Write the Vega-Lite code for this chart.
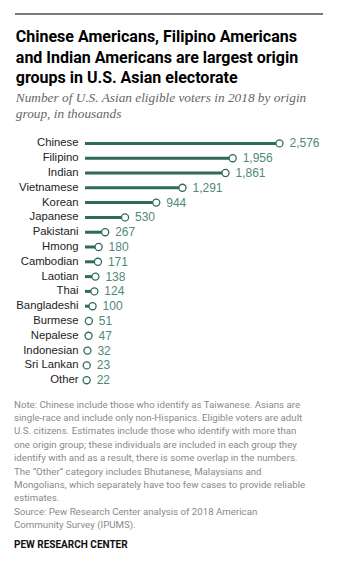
{
  "$schema": "https://vega.github.io/schema/vega-lite/v6.json",
  "padding": {"left": 14, "top": 13, "right": 8, "bottom": 8},
  "background": "white",
  "config": {"view": {"stroke": null}},
  "title": {
    "text": [
      "Note: Chinese include those who identify as Taiwanese. Asians are",
      "single-race and include only non-Hispanics. Eligible voters are adult",
      "U.S. citizens. Estimates include those who identify with more than",
      "one origin group; these individuals are included in each group they",
      "identify with and as a result, there is some overlap in the numbers.",
      "The “Other” category includes Bhutanese, Malaysians and",
      "Mongolians, which separately have too few cases to provide reliable",
      "estimates.",
      "Source: Pew Research Center analysis of 2018 American",
      "Community Survey (IPUMS)."
    ],
    "subtitle": "PEW RESEARCH CENTER",
    "orient": "bottom",
    "anchor": "start",
    "frame": "bounds",
    "offset": 12,
    "font": "Roboto",
    "fontSize": 9.7,
    "fontWeight": "normal",
    "color": "#8a8a8a",
    "lineHeight": 13.4,
    "subtitleFont": "Roboto",
    "subtitleFontSize": 10,
    "subtitleFontWeight": "bold",
    "subtitleColor": "#111111",
    "subtitlePadding": 10
  },
  "spacing": 14,
  "vconcat": [
    {
      "width": 238,
      "height": 2,
      "data": {"values": [{"x": -70, "x2": 238, "y": 0.5}]},
      "mark": {"type": "rule", "color": "#7a7a7a", "strokeWidth": 2},
      "encoding": {
        "x": {"field": "x", "type": "quantitative", "scale": {"domain": [0, 238], "nice": false, "zero": false}, "axis": null},
        "x2": {"field": "x2"},
        "y": {"field": "y", "type": "quantitative", "scale": {"domain": [0, 1]}, "axis": null}
      }
    },
    {
      "title": {
        "text": [
          "Chinese Americans, Filipino Americans",
          "and Indian Americans are largest origin",
          "groups in U.S. Asian electorate"
        ],
        "subtitle": [
          "Number of U.S. Asian eligible voters in 2018 by origin",
          "group, in thousands"
        ],
        "anchor": "start",
        "frame": "bounds",
        "font": "Roboto",
        "fontSize": 16,
        "fontWeight": "bold",
        "color": "#000000",
        "lineHeight": 20.5,
        "subtitleFont": "Liberation Serif",
        "subtitleFontStyle": "italic",
        "subtitleFontSize": 13.3,
        "subtitleColor": "#666666",
        "subtitleLineHeight": 16,
        "subtitlePadding": 5,
        "offset": 15.5
      },
      "width": 236,
      "height": 251.6,
      "data": {
        "values": [
          {"group": "Chinese", "value": 2576},
          {"group": "Filipino", "value": 1956},
          {"group": "Indian", "value": 1861},
          {"group": "Vietnamese", "value": 1291},
          {"group": "Korean", "value": 944},
          {"group": "Japanese", "value": 530},
          {"group": "Pakistani", "value": 267},
          {"group": "Hmong", "value": 180},
          {"group": "Cambodian", "value": 171},
          {"group": "Laotian", "value": 138},
          {"group": "Thai", "value": 124},
          {"group": "Bangladeshi", "value": 100},
          {"group": "Burmese", "value": 51},
          {"group": "Nepalese", "value": 47},
          {"group": "Indonesian", "value": 32},
          {"group": "Sri Lankan", "value": 23},
          {"group": "Other", "value": 22}
        ]
      },
      "encoding": {
        "y": {
          "field": "group",
          "type": "nominal",
          "sort": null,
          "scale": {"paddingInner": 0, "paddingOuter": 0},
          "axis": {
            "title": null,
            "domain": false,
            "ticks": false,
            "labelPadding": 7,
            "labelFont": "Liberation Sans",
            "labelFontSize": 11.3,
            "labelColor": "#222222"
          }
        },
        "x": {"field": "value", "type": "quantitative", "scale": {"domain": [0, 3126], "nice": false}, "axis": null}
      },
      "layer": [
        {
          "mark": {"type": "rule", "color": "#2f6b5c", "strokeWidth": 3},
          "encoding": {
            "x2": {"datum": 0}
          }
        },
        {
          "mark": {"type": "point", "shape": "circle", "filled": true, "fill": "white", "stroke": "#2f6b5c", "strokeWidth": 1.3, "size": 50, "opacity": 1}
        },
        {
          "mark": {"type": "text", "align": "left", "baseline": "middle", "dx": 10, "font": "Liberation Sans", "fontSize": 12, "color": "#4f8a78"},
          "encoding": {
            "text": {"field": "value", "type": "quantitative", "format": ","}
          }
        }
      ]
    }
  ]
}
